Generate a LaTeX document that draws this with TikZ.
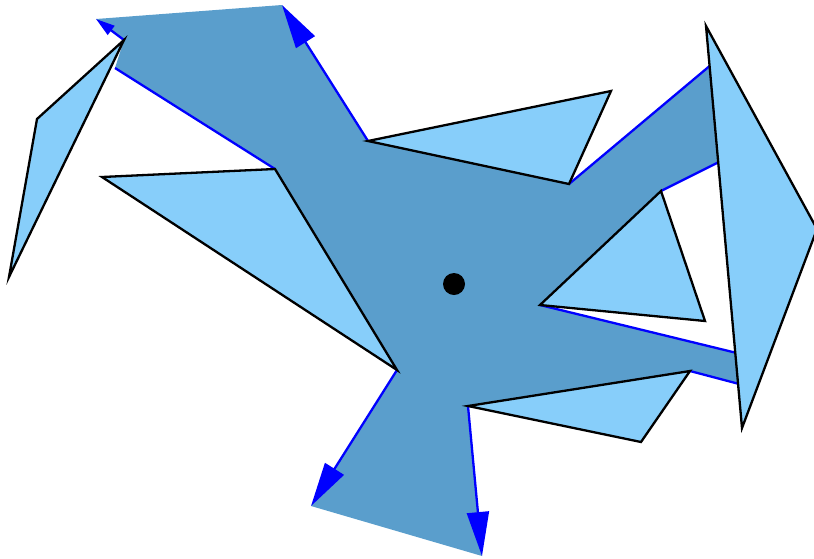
\documentclass[tikz,border=0pt]{standalone}
\usepackage{tikz}
\usetikzlibrary{arrows.meta}

\definecolor{regionblue}{RGB}{90,158,204}
\definecolor{finblue}{RGB}{135,206,250}

\begin{document}
\begin{tikzpicture}[x=1pt, y=-1pt,
    fin/.style={fill=finblue, draw=black, line width=2.3pt},
    ray/.style={draw=blue, line width=2.3pt},
    bigtip/.style={-{Triangle[length=44pt, width=22pt]}},
    smalltip/.style={-{Triangle[length=19pt, width=11pt]}}]
    \useasboundingbox (0,0) rectangle (814,558);

    % Polygon corners
    \coordinate (p1) at (96,19);
    \coordinate (p2) at (282,5);
    \coordinate (p3) at (368,141);
    \coordinate (p4) at (569,184);
    \coordinate (p5) at (712,64);
    \coordinate (p6) at (721,161);
    \coordinate (p7) at (661,191);
    \coordinate (p8) at (540,305);
    \coordinate (p9) at (741,354);
    \coordinate (p10) at (743,385);
    \coordinate (p11) at (690,371);
    \coordinate (p12) at (468,406);
    \coordinate (p13) at (482,556);
    \coordinate (p14) at (311,506);
    \coordinate (p15) at (397,370);
    \coordinate (p16) at (275,169);
    \coordinate (p17) at (115,68);
    \coordinate (p18) at (124,40);

    % Shaded polygon
    \fill[regionblue] (p1) -- (p2) -- (p3) -- (p4) -- (p5) -- (p6) -- (p7) -- (p8)
        -- (p9) -- (p10) -- (p11) -- (p12) -- (p13) -- (p14) -- (p15) -- (p16)
        -- (p17) -- (p18) -- cycle;

    % Rays
    \draw[ray] (p16) -- (p17);
    \draw[ray] (p4) -- (p5);
    \draw[ray] (p7) -- (p6);
    \draw[ray] (p8) -- (p9);
    \draw[ray] (p11) -- (p10);
    \draw[ray, smalltip] (p18) -- (p1);
    \draw[ray, bigtip] (p3) -- (p2);
    \draw[ray, bigtip] (p12) -- (p13);
    \draw[ray, bigtip] (p15) -- (p14);

    % Triangles
    \draw[fin] (p3) -- (611,91) -- (p4) -- cycle;
    \draw[fin] (p7) -- (705,321) -- (p8) -- cycle;
    \draw[fin] (p12) -- (p11) -- (641,442) -- cycle;
    \draw[fin] (p16) -- (p15) -- (102,177) -- cycle;
    \draw[fin] (p18) -- (37,119) -- (9,277) -- cycle;
    \draw[fin] (706,26) -- (817,229) -- (742,428) -- cycle;

    \fill (454,284) circle (11);
\end{tikzpicture}
\end{document}
